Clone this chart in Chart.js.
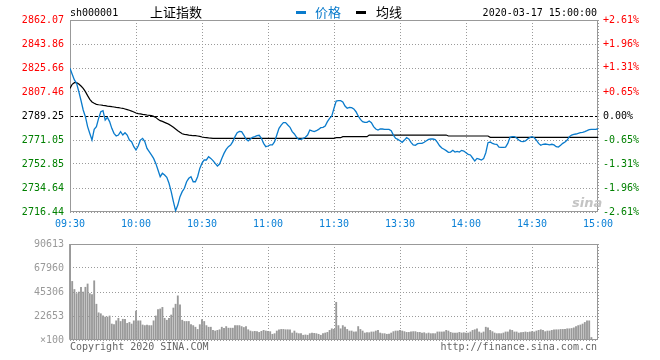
<!DOCTYPE html>
<html>
<head>
<meta charset="utf-8">
<script src="https://cdn.jsdelivr.net/npm/chart.js@4.4.0/dist/chart.umd.min.js"></script>
<style>
  body { margin: 0; background: #fff; }
  #wrap { position: relative; width: 660px; height: 360px; font-family: 'DejaVu Sans Mono', monospace; font-size: 10px; }
  canvas { position: absolute; left: 0; }
  .t { position: absolute; white-space: nowrap; line-height: 1; }
  .cjk { font-family: 'Noto Sans CJK SC', sans-serif; font-size: 13px; }
</style>
</head>
<body>
<div id="wrap">
  <canvas id="price" width="660" height="232" style="top:0"></canvas>
  <canvas id="vol" width="660" height="128" style="top:232px"></canvas>

  <div class="t" style="left:70px;top:8px;">sh000001</div>
  <div class="t cjk" style="left:150px;top:5px;">上证指数</div>
  <div style="position:absolute;left:296px;top:11px;width:10px;height:3px;background:#0a7bcc;"></div>
  <div class="t cjk" style="left:315px;top:5px;color:#0a7bcc;">价格</div>
  <div style="position:absolute;left:356px;top:11px;width:10px;height:3px;background:#000;"></div>
  <div class="t cjk" style="left:376px;top:5px;">均线</div>
  <div class="t" style="right:63px;top:8px;">2020-03-17 15:00:00</div>

  <div class="t" style="left:572px;top:195px;font:italic bold 13px 'DejaVu Sans',sans-serif;color:#c4c4c4;">sina</div>

  <div class="t" style="left:70px;top:342px;color:#666;">Copyright 2020 SINA.COM</div>
  <div class="t" style="right:63px;top:342px;color:#666;">http://finance.sina.com.cn</div>
</div>

<script>
// 上证指数 2020-03-17 分时, one value per minute (09:30-11:30, 13:01-15:00)
const prevClose = 2789.25;

const timeLabels = ['09:30', '10:00', '10:30', '11:00', '11:30', '13:30', '14:00', '14:30', '15:00'];
const priceTickLabels = ['2716.44', '2734.64', '2752.85', '2771.05', '2789.25', '2807.46', '2825.66', '2843.86', '2862.07'];
const pctTickValues = [-2.61, -1.96, -1.31, -0.65, 0, 0.65, 1.31, 1.96, 2.61];
const pctTickLabels = ['-2.61%', '-1.96%', '-1.31%', '-0.65%', '0.00%', '+0.65%', '+1.31%', '+1.96%', '+2.61%'];
const volTickValues = [0, 22653, 45306, 67960, 90613];
const volTickLabels = ['\u00d7100', '22653', '45306', '67960', '90613'];

const price = [
  2825.4, 2821.0, 2816.6, 2814.0, 2807.7, 2801.0, 2793.8, 2788.7, 2781.2, 2776.0,
  2771.0, 2779.1, 2781.2, 2787.5, 2792.5, 2793.3, 2786.2, 2788.2, 2785.0, 2779.9,
  2776.1, 2774.1, 2774.8, 2777.4, 2774.8, 2776.6, 2774.8, 2771.0, 2769.8, 2766.0,
  2763.5, 2766.5, 2771.0, 2772.3, 2769.8, 2764.7, 2762.2, 2759.7, 2757.1, 2753.3,
  2748.3, 2743.2, 2745.8, 2744.5, 2742.7, 2738.2, 2731.9, 2724.3, 2717.4, 2721.7,
  2728.1, 2731.9, 2734.4, 2739.4, 2742.0, 2743.2, 2739.4, 2739.4, 2743.2, 2749.5,
  2753.5, 2755.9, 2755.9, 2758.4, 2757.1, 2755.4, 2753.3, 2751.3, 2752.8, 2757.1,
  2760.9, 2763.9, 2766.0, 2767.2, 2769.8, 2773.6, 2776.6, 2777.6, 2777.4, 2774.8,
  2771.8, 2770.3, 2771.8, 2773.1, 2773.6, 2774.3, 2774.6, 2772.3, 2768.5, 2766.0,
  2766.5, 2767.3, 2767.3, 2769.8, 2774.8, 2779.9, 2782.4, 2784.2, 2784.2, 2782.4,
  2780.7, 2777.4, 2775.6, 2773.1, 2771.5, 2771.5, 2772.3, 2773.1, 2774.8, 2778.6,
  2777.9, 2777.4, 2778.1, 2779.1, 2780.4, 2780.7, 2781.7, 2785.0, 2787.5, 2789.3,
  2795.1, 2800.6, 2800.9, 2800.9, 2799.9, 2796.8, 2795.1, 2795.8, 2795.6, 2794.6,
  2792.5, 2789.3, 2786.7, 2785.0, 2784.4, 2784.4, 2785.5, 2784.2, 2781.2, 2779.4,
  2778.6, 2779.4, 2779.4, 2779.1, 2779.1, 2779.1, 2778.1, 2774.8, 2772.3, 2771.5,
  2770.5, 2769.3, 2771.0, 2772.8, 2771.8, 2769.3, 2767.3, 2767.0, 2768.3, 2768.5,
  2768.5, 2769.3, 2770.5, 2771.5, 2771.8, 2771.8, 2771.3, 2769.3, 2766.7, 2765.0,
  2764.0, 2763.0, 2761.7, 2761.9, 2763.2, 2761.9, 2762.4, 2761.9, 2763.2, 2762.7,
  2761.4, 2760.2, 2759.7, 2757.4, 2755.1, 2757.1, 2756.6, 2755.9, 2756.9, 2761.4,
  2769.0, 2769.5, 2768.5, 2768.0, 2767.8, 2765.7, 2765.5, 2765.5, 2765.7, 2768.5,
  2773.1, 2773.6, 2773.6, 2772.6, 2771.0, 2770.0, 2769.8, 2770.3, 2771.8, 2772.8,
  2773.6, 2772.8, 2771.0, 2768.5, 2767.0, 2767.8, 2768.0, 2767.8, 2767.3, 2767.8,
  2767.3, 2766.0, 2765.7, 2767.0, 2768.5, 2769.5, 2771.0, 2773.6, 2774.8, 2775.3,
  2775.6, 2776.1, 2776.6, 2776.9, 2777.4, 2778.1, 2778.9, 2779.1, 2779.1, 2779.1,
  2779.6
];

const avgPrice = [
  2810.2, 2813.3, 2814.5, 2814.5, 2813.5, 2812.0, 2810.2, 2807.7, 2804.7, 2801.9,
  2799.9, 2798.9, 2798.1, 2797.8, 2797.6, 2797.3, 2797.1, 2796.8, 2796.6, 2796.3,
  2796.1, 2795.8, 2795.6, 2795.3, 2795.1, 2794.6, 2794.1, 2793.6, 2793.0, 2792.3,
  2791.5, 2791.0, 2790.8, 2790.5, 2790.3, 2790.0, 2789.8, 2789.5, 2789.0, 2788.2,
  2786.7, 2785.7, 2785.2, 2784.4, 2783.7, 2782.9, 2781.9, 2780.7, 2779.4, 2778.1,
  2776.9, 2775.8, 2775.3, 2775.1, 2774.8, 2774.6, 2774.3, 2774.3, 2774.1, 2773.8,
  2773.3, 2773.0, 2772.8, 2772.6, 2772.5, 2772.3, 2772.3, 2772.3, 2772.3, 2772.3,
  2772.3, 2772.3, 2772.3, 2772.3, 2772.3, 2772.3, 2772.3, 2772.3, 2772.3, 2772.3,
  2772.3, 2772.3, 2772.3, 2772.3, 2772.3, 2772.3, 2772.3, 2772.3, 2772.3, 2772.3,
  2772.3, 2772.3, 2772.3, 2772.3, 2772.3, 2772.3, 2772.3, 2772.3, 2772.3, 2772.3,
  2772.3, 2772.3, 2772.3, 2772.3, 2772.3, 2772.3, 2772.3, 2772.3, 2772.3, 2772.3,
  2772.3, 2772.3, 2772.3, 2772.3, 2772.3, 2772.3, 2772.3, 2772.3, 2772.3, 2772.3,
  2772.3, 2772.8, 2772.8, 2772.8, 2773.6, 2773.6, 2773.6, 2773.6, 2773.6, 2773.6,
  2773.6, 2773.6, 2773.6, 2773.6, 2773.6, 2773.6, 2774.8, 2774.8, 2774.8, 2774.8,
  2774.8, 2774.8, 2774.8, 2774.8, 2774.8, 2774.8, 2774.8, 2774.8, 2774.8, 2774.8,
  2774.8, 2774.8, 2774.8, 2774.8, 2774.8, 2774.8, 2774.8, 2774.8, 2774.8, 2774.8,
  2774.8, 2774.8, 2774.8, 2774.8, 2774.8, 2774.8, 2774.8, 2774.8, 2774.8, 2774.8,
  2774.8, 2774.8, 2774.1, 2774.1, 2774.1, 2774.1, 2774.1, 2774.1, 2774.1, 2774.1,
  2774.1, 2774.1, 2774.1, 2774.1, 2774.1, 2774.1, 2774.1, 2774.1, 2774.1, 2774.1,
  2774.1, 2773.1, 2773.1, 2773.1, 2773.1, 2773.1, 2773.1, 2773.1, 2773.1, 2773.1,
  2773.1, 2773.1, 2773.1, 2773.1, 2773.1, 2773.1, 2773.1, 2773.1, 2773.1, 2773.1,
  2773.1, 2773.1, 2773.1, 2773.1, 2773.1, 2773.1, 2773.1, 2773.1, 2773.1, 2773.1,
  2773.1, 2773.1, 2773.1, 2773.1, 2773.1, 2773.1, 2773.1, 2773.1, 2773.1, 2773.1,
  2773.1, 2773.1, 2773.1, 2773.1, 2773.1, 2773.1, 2773.1, 2773.1, 2773.1, 2773.1,
  2773.1
];

// volume, in units of 100 shares
const volume = [
  90613, 55300, 47700, 43800, 45300, 49800, 45300, 49800, 52900, 43800,
  42900, 55900, 33800, 25700, 24800, 22700, 21700, 21700, 22700, 15100,
  14500, 18100, 20500, 17500, 19600, 19600, 15700, 16600, 15100, 18100,
  27200, 18100, 18100, 14200, 13600, 14200, 13600, 13600, 18100, 22700,
  28700, 29300, 30800, 20500, 18700, 20500, 23600, 30200, 33800, 41700,
  33200, 18700, 17500, 17500, 17500, 14500, 13600, 12100, 10000, 14500,
  19300, 17500, 13600, 12100, 12100, 9100, 8500, 9100, 9700, 12100,
  10900, 12700, 11200, 11200, 11200, 13600, 13600, 13600, 12700, 11800,
  12700, 9700, 8500, 7900, 8200, 7900, 7200, 8200, 9100, 8500,
  8200, 7900, 5400, 6000, 8500, 9700, 10000, 10000, 9700, 9700,
  9700, 6600, 8500, 6600, 6000, 6000, 4500, 4800, 4500, 6000,
  6600, 6300, 6000, 5400, 4500, 6000, 6600, 7200, 9100, 10600,
  10000, 35600, 13600, 10600, 13600, 12100, 10000, 8500, 8500, 7600,
  7600, 12700, 10000, 8500, 6600, 6900, 6900, 7600, 7600, 8500,
  9100, 6600, 6000, 6000, 5400, 5700, 6600, 7900, 8500, 8500,
  9100, 8500, 7900, 7200, 7200, 7600, 7900, 7900, 7200, 7200,
  6600, 6900, 6000, 6600, 6000, 6000, 6000, 7600, 7600, 7600,
  7600, 9100, 8500, 7200, 6600, 6600, 6600, 7200, 6600, 6900,
  6600, 6600, 7600, 9100, 9700, 10600, 7600, 6600, 7600, 12100,
  11500, 9100, 7900, 6600, 6000, 6000, 6000, 6600, 7600, 7600,
  9700, 9100, 7600, 7600, 6600, 6900, 7200, 7600, 7200, 7600,
  7900, 7600, 8500, 9100, 9700, 9100, 7900, 8500, 8500, 9100,
  9700, 9700, 9700, 10000, 10000, 10000, 10600, 10600, 10900, 11500,
  12700, 13600, 14200, 15100, 16600, 18100, 18100, 2400, 0, 0,
  0
];

const RED = '#ff0000', GREEN = '#008000', BLUE = '#0a7bcc', AXIS_BLUE = '#0b80d6';
const GRID = '#9a9a9a', FRAME = '#999999';
const monoFont = { family: "'DejaVu Sans Mono', monospace", size: 10 };

const xy = arr => arr.map((v, i) => ({ x: i, y: v }));

// draws plot frame and previous-close dashed line
const framePlugin = {
  id: 'frame',
  beforeDatasetsDraw(chart, args, opts) {
    const { ctx, chartArea: a } = chart;
    ctx.save();
    if (opts.prevClose) {
      const y = Math.round(chart.scales.y.getPixelForValue(prevClose)) + 0.5;
      ctx.strokeStyle = '#000';
      ctx.lineWidth = 1;
      ctx.setLineDash([3, 2]);
      ctx.beginPath();
      ctx.moveTo(a.left, y);
      ctx.lineTo(a.right, y);
      ctx.stroke();
      ctx.setLineDash([]);
    }
    ctx.strokeStyle = FRAME;
    ctx.lineWidth = 1;
    ctx.strokeRect(Math.round(a.left) + 0.5, Math.round(a.top) + 0.5,
      Math.round(a.right - a.left) - 1, Math.round(a.bottom - a.top) - 1);
    ctx.restore();
  }
};

const gridOpts = { color: GRID, lineWidth: 1, drawTicks: false, offset: false };
const borderOpts = { display: false, dash: [1, 2] };

const xScale = (showLabels) => ({
  type: 'linear',
  offset: false,
  min: 0,
  max: 240,
  afterFit: s => { s.height = 20; },
  grid: gridOpts,
  border: borderOpts,
  ticks: {
    display: showLabels,
    stepSize: 30,
    autoSkip: false,
    maxRotation: 0,
    padding: 6,
    color: AXIS_BLUE,
    font: monoFont,
    callback: (v, i) => timeLabels[i]
  }
});

new Chart(document.getElementById('price'), {
  type: 'line',
  data: {
    datasets: [
      { label: '价格', data: xy(price), borderColor: BLUE, borderWidth: 1.3, pointRadius: 0, tension: 0, yAxisID: 'y' },
      { label: '均线', data: xy(avgPrice), borderColor: '#000', borderWidth: 1.2, pointRadius: 0, tension: 0, yAxisID: 'y' }
    ]
  },
  options: {
    responsive: false,
    animation: false,
    layout: { padding: { top: 20 } },
    plugins: { legend: { display: false }, tooltip: { enabled: false }, frame: { prevClose: true } },
    scales: {
      x: xScale(true),
      y: {
        position: 'left',
        min: parseFloat(priceTickLabels[0]),
        max: parseFloat(priceTickLabels[priceTickLabels.length - 1]),
        afterBuildTicks: s => { s.ticks = priceTickLabels.map(l => ({ value: parseFloat(l) })); },
        afterFit: s => { s.width = 70; },
        grid: gridOpts,
        border: borderOpts,
        ticks: {
          padding: 6,
          font: monoFont,
          callback: (v, i) => priceTickLabels[i],
          color: c => c.tick.value > prevClose + 0.001 ? RED : (c.tick.value < prevClose - 0.001 ? GREEN : '#000')
        }
      },
      pct: {
        position: 'right',
        min: -2.61,
        max: 2.61,
        afterBuildTicks: s => { s.ticks = pctTickValues.map(v => ({ value: v })); },
        afterFit: s => { s.width = 62; },
        grid: { display: false, drawTicks: false },
        border: { display: false },
        ticks: {
          padding: 5,
          font: monoFont,
          callback: (v, i) => pctTickLabels[i],
          color: c => c.tick.value > 0 ? RED : (c.tick.value < 0 ? GREEN : '#000')
        }
      }
    }
  },
  plugins: [framePlugin]
});

new Chart(document.getElementById('vol'), {
  type: 'bar',
  data: {
    datasets: [
      {
        label: '成交量', data: xy(volume), backgroundColor: '#999999',
        barThickness: 1.2, borderWidth: 0,
        clip: { left: 2, top: 0, right: 0, bottom: 0 }
      }
    ]
  },
  options: {
    responsive: false,
    animation: false,
    layout: { padding: { top: 8 } },
    plugins: { legend: { display: false }, tooltip: { enabled: false }, frame: { prevClose: false } },
    scales: {
      x: xScale(false),
      y: {
        position: 'left',
        min: 0,
        max: volTickValues[volTickValues.length - 1],
        afterBuildTicks: s => { s.ticks = volTickValues.map(v => ({ value: v })); },
        afterFit: s => { s.width = 70; },
        grid: gridOpts,
        border: borderOpts,
        ticks: {
          padding: 6,
          font: monoFont,
          color: '#999999',
          callback: (v, i) => volTickLabels[i]
        }
      },
      yr: {
        position: 'right',
        min: 0,
        max: 1,
        afterFit: s => { s.width = 62; },
        grid: { display: false },
        border: { display: false },
        ticks: { display: false }
      }
    }
  },
  plugins: [framePlugin]
});
</script>
</body>
</html>
